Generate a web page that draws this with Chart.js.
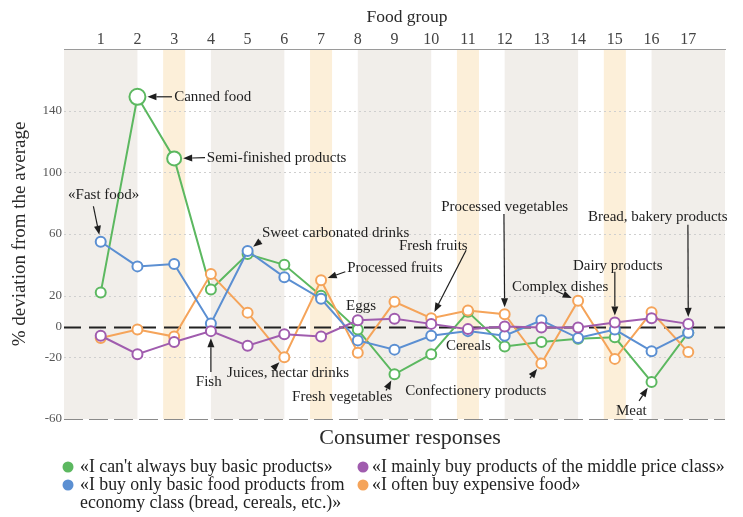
<!DOCTYPE html>
<html>
<head>
<meta charset="utf-8">
<title>Food group deviation</title>
<script src="https://cdn.jsdelivr.net/npm/chart.js@4.4.0/dist/chart.umd.min.js"></script>
<style>
  html, body { margin: 0; padding: 0; background: #fff; }
  #wrap { width: 743px; height: 517px; position: relative; }
</style>
</head>
<body>
<div id="wrap"><canvas id="chart"></canvas></div>
<script>
/* ── Data ───────────────────────────────────────────────────── */

const foodGroups = [1, 2, 3, 4, 5, 6, 7, 8, 9, 10, 11, 12, 13, 14, 15, 16, 17];
const yTicks = [140, 100, 60, 20, 0, -20, -60];

const cantAlwaysBuy = [22, 149, 109, 24, 47, 40, 20, -2, -31, -18, 9.5, -13, -10, -8, -7, -36, -4];
const economyClass  = [55, 39, 40.5, 2, 49, 32, 18, -9, -15, -6, -3, -6, 4, -7.5, -2, -16, -4];
const middleClass   = [-6, -18, -10, -3, -12.5, -5, -6.5, 4, 5, 1.7, -1.7, 0, -0.6, -0.6, 2.6, 5.4, 1.7];
const expensiveFood = [-7.5, -2, -6.5, 34, 9, -20, 30, -17, 16, 5.4, 10.4, 8, -24, 16.7, -21, 9.3, -16.6];

const seriesNames = [
  ["«I can't always buy basic products»"],
  ["«I buy only basic food products from", "economy class (bread, cereals, etc.)»"],
  ["«I mainly buy products of the middle price class»"],
  ["«I often buy expensive food»"],
];

// shaded column bands, in food-group units
const greyBands   = [[0, 2], [4, 6], [8, 10], [12, 14], [16, 18]];
const orangeBands = [[2.7, 3.3], [6.7, 7.3], [10.7, 11.3], [14.7, 15.3]];

// callouts: text anchor (x,y) in data units, arrow start (ax,ay), target series/index
const callouts = [
  { text: "Canned food",             x: 3.0,   y: 149,   ax: 2.94,  ay: 149,   s: 0, i: 1 },
  { text: "Semi-finished products",  x: 3.89,  y: 109.5, ax: 3.84,  ay: 109.5, s: 0, i: 2 },
  { text: "«Fast food»",             x: 0.11,  y: 85.5,  ax: 0.8,   ay: 78,    s: 1, i: 0 },
  { text: "Sweet carbonated drinks", x: 5.39,  y: 60.8,  ax: 5.36,  ay: 55.5,  s: 1, i: 4 },
  { text: "Processed fruits",        x: 7.71,  y: 38.1,  ax: 7.66,  ay: 35.5,  s: 3, i: 6 },
  { text: "Eggs",                    x: 7.68,  y: 13.4 },
  { text: "Fresh fruits",            x: 9.12,  y: 52.4,  ax: 10.95, ay: 49.5,  s: 3, i: 9 },
  { text: "Processed vegetables",    x: 10.27, y: 77.7,  ax: 11.98, ay: 73,    s: 3, i: 11 },
  { text: "Bread, bakery products",  x: 14.27, y: 71.2,  ax: 16.99, ay: 66,    s: 2, i: 16 },
  { text: "Dairy products",          x: 13.86, y: 39.4,  ax: 15.0,  ay: 35.5,  s: 2, i: 14 },
  { text: "Complex dishes",          x: 12.2,  y: 25.8,  ax: 13.4,  ay: 23,    s: 3, i: 13 },
  { text: "Cereals",                 x: 10.4,  y: -12.5 },
  { text: "Confectionery products",  x: 9.29,  y: -41.7, ax: 12.69, ay: -33.5, s: 3, i: 12 },
  { text: "Meat",                    x: 15.03, y: -54.7, ax: 15.66, ay: -48.2, s: 0, i: 15 },
  { text: "Fish",                    x: 3.59,  y: -35.9, ax: 4.0,   ay: -29.5, s: 2, i: 3 },
  { text: "Juices, nectar drinks",   x: 4.44,  y: -30.3, ax: 5.69,  ay: -27.4, s: 3, i: 5 },
  { text: "Fresh vegetables",        x: 6.21,  y: -45.6, ax: 8.77,  ay: -41.5, s: 0, i: 8 },
];

/* ── Styling ────────────────────────────────────────────────── */

const SERIF = "'Liberation Serif', 'Times New Roman', serif";
const COLORS = ["#5cb860", "#5b8fd2", "#a05cae", "#f5a45a"];
const DRAW_ORDER = [3, 1, 0, 2];   // purple on top, green underneath

Chart.defaults.font.family = SERIF;

function makeDataset(values, idx) {
  return {
    label: seriesNames[idx].join(" "),
    data: values.map((v, i) => ({ x: foodGroups[i], y: v })),
    borderColor: COLORS[idx],
    backgroundColor: "#fff",
    pointBackgroundColor: "#fff",
    pointBorderColor: COLORS[idx],
    borderWidth: 2,
    pointBorderWidth: 2,
    pointRadius: c => (c.raw && c.raw.y > 140 ? 8 : c.raw && c.raw.y > 100 ? 7 : 5),
    tension: 0,
    order: DRAW_ORDER[idx],
  };
}

/* ── Decoration plugin ──────────────────────────────────────── */

function drawArrow(ctx, x1, y1, x2, y2) {
  const ang = Math.atan2(y2 - y1, x2 - x1);
  const head = 9, half = 3.5;
  const cos = Math.cos(ang), sin = Math.sin(ang);
  ctx.beginPath();
  ctx.moveTo(x1, y1);
  ctx.lineTo(x2 - head * cos, y2 - head * sin);
  ctx.stroke();
  ctx.beginPath();
  ctx.moveTo(x2, y2);
  ctx.lineTo(x2 - head * cos + half * sin, y2 - head * sin - half * cos);
  ctx.lineTo(x2 - head * cos - half * sin, y2 - head * sin + half * cos);
  ctx.closePath();
  ctx.fill();
}

const decor = {
  id: "decor",
  beforeDraw(chart) {
    const { ctx, chartArea: a, scales: { x } } = chart;
    ctx.save();
    const band = (list, color) => list.forEach(([from, to]) => {
      const l = x.getPixelForValue(from), r = x.getPixelForValue(to);
      ctx.fillStyle = color;
      ctx.fillRect(l, a.top, r - l, a.bottom - a.top);
    });
    band(greyBands, "#f1eeea");
    band(orangeBands, "#fcefd9");
    ctx.restore();
  },
  beforeDatasetsDraw(chart) {
    const { ctx, chartArea: a, scales: { y } } = chart;
    ctx.save();
    yTicks.forEach(v => {
      const py = Math.round(y.getPixelForValue(v)) + 0.5;
      ctx.beginPath();
      if (v === 0) {
        ctx.strokeStyle = "#222"; ctx.lineWidth = 2; ctx.setLineDash([17, 8]);
      } else if (v === -60) {
        ctx.strokeStyle = "#8a8a8a"; ctx.lineWidth = 1.2; ctx.setLineDash([19, 6]);
      } else {
        ctx.strokeStyle = "#cfcfcf"; ctx.lineWidth = 1; ctx.setLineDash([2, 3]);
      }
      ctx.moveTo(a.left, py);
      ctx.lineTo(a.right, py);
      ctx.stroke();
    });
    ctx.restore();
  },
  afterDraw(chart) {
    const { ctx, chartArea: a, scales: { x, y } } = chart;
    ctx.save();

    // callouts
    ctx.font = `15px ${SERIF}`;
    ctx.fillStyle = "#1e1e1e";
    ctx.strokeStyle = "#1e1e1e";
    ctx.lineWidth = 1.2;
    ctx.textAlign = "left";
    ctx.textBaseline = "middle";
    callouts.forEach(c => {
      ctx.fillText(c.text, x.getPixelForValue(c.x), y.getPixelForValue(c.y));
      if (c.s === undefined) return;
      const pt = chart.getDatasetMeta(c.s).data[c.i];
      const x1 = x.getPixelForValue(c.ax), y1 = y.getPixelForValue(c.ay);
      const d = Math.hypot(pt.x - x1, pt.y - y1);
      const r = (pt.options.radius || 5) + 2;
      drawArrow(ctx, x1, y1, pt.x - (pt.x - x1) / d * r, pt.y - (pt.y - y1) / d * r);
    });

    // titles
    ctx.textAlign = "center";
    ctx.fillStyle = "#2a2a2a";
    ctx.font = `17.5px ${SERIF}`;
    ctx.fillText("Food group", 407, 17);
    ctx.font = `22px ${SERIF}`;
    ctx.fillText("Consumer responses", 410, a.bottom + 19);

    // legend
    ctx.font = `17.8px ${SERIF}`;
    ctx.textAlign = "left";
    const cols = [68, 363];
    const rows = [a.bottom + 48, a.bottom + 66];
    const slots = [[0, 0], [0, 1], [1, 0], [1, 1]];
    seriesNames.forEach((lines, k) => {
      const [c, r] = slots[k];
      const cx = cols[c], cy = rows[r];
      ctx.fillStyle = COLORS[k];
      ctx.beginPath();
      ctx.arc(cx, cy, 5.5, 0, Math.PI * 2);
      ctx.fill();
      ctx.fillStyle = "#222";
      lines.forEach((t, j) => ctx.fillText(t, cx + (c === 0 ? 12 : 9), cy + j * 18.5));
    });
    ctx.restore();
  },
};

/* ── Chart ──────────────────────────────────────────────────── */

new Chart(document.getElementById("chart"), {
  type: "line",
  data: {
    datasets: [cantAlwaysBuy, economyClass, middleClass, expensiveFood].map(makeDataset),
  },
  options: {
    responsive: true,
    maintainAspectRatio: false,
    animation: false,
    layout: { padding: { left: 7, right: 18, top: 0, bottom: 98 } },
    plugins: { legend: { display: false }, tooltip: { enabled: false } },
    scales: {
      x: {
        type: "linear",
        position: "top",
        min: 0,
        max: 18,
        afterBuildTicks: s => { s.ticks = foodGroups.map(v => ({ value: v })); },
        afterFit: s => { s.height = 49; },
        ticks: { color: "#444", font: { size: 16 }, padding: 0, autoSkip: false, maxRotation: 0 },
        grid: { display: false, drawTicks: false },
        border: { display: true, color: "#9a9a9a", width: 1, dash: [18, 8] },
      },
      y: {
        min: -60,
        max: 180,
        afterBuildTicks: s => { s.ticks = yTicks.map(v => ({ value: v })); },
        afterFit: s => { s.width = 57; },
        ticks: { color: "#555", font: { size: 13 }, padding: 2 },
        grid: { display: false, drawTicks: false },
        border: { display: false },
        title: {
          display: true,
          text: "% deviation from the average",
          color: "#2a2a2a",
          font: { size: 19 },
          padding: { top: 2, bottom: 0 },
        },
      },
    },
  },
  plugins: [decor],
});
</script>
</body>
</html>
